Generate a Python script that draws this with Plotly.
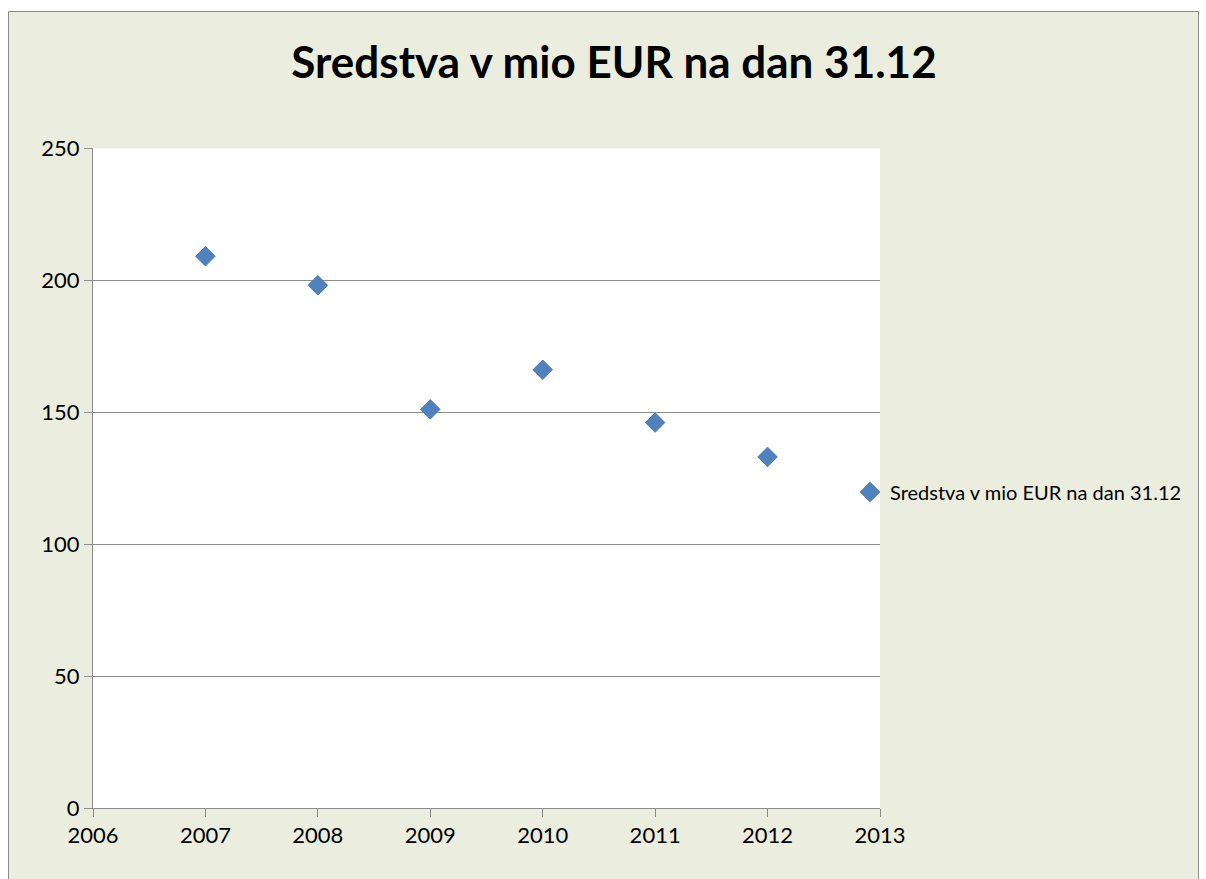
import plotly.graph_objects as go

years = [2007, 2008, 2009, 2010, 2011, 2012]
values = [209, 198, 151, 166, 146, 133]
series_name = "Sredstva v mio EUR na dan 31.12"
title_text = "Sredstva v mio EUR na dan 31.12"

W, H = 1206, 879
L, R, T, B = 93, 1206 - 880, 148, 879 - 808
pw, ph = W - L - R, H - T - B

def px(x):
    return (x - L) / pw

def py(y):
    return (H - B - y) / ph

BG = "#EBEEDF"
FONT = "Lato"
GRID = "#8C8C8C"

fig = go.Figure()
fig.add_trace(go.Scatter(
    x=years, y=values, mode="markers", name=series_name,
    marker=dict(symbol="diamond", size=15, color="#4F81BD",
                line=dict(color="#4A7AB5", width=1)),
))

shapes = [
    # white page outside the chart frame
    dict(type="rect", xref="paper", yref="paper", x0=px(-5), x1=px(8), y0=py(H + 5), y1=py(-5),
         fillcolor="white", line=dict(width=0), layer="below"),
    dict(type="rect", xref="paper", yref="paper", x0=px(-5), x1=px(W + 5), y0=py(11), y1=py(-5),
         fillcolor="white", line=dict(width=0), layer="below"),
    dict(type="rect", xref="paper", yref="paper", x0=px(1199), x1=px(W + 5), y0=py(H + 5), y1=py(-5),
         fillcolor="white", line=dict(width=0), layer="below"),
    # chart frame
    dict(type="rect", xref="paper", yref="paper", x0=px(8.5), x1=px(1198.5), y0=py(H + 5), y1=py(11.5),
         fillcolor="rgba(0,0,0,0)", line=dict(color=GRID, width=1), layer="below"),
]

fig.update_layout(
    width=W, height=H, autosize=False,
    margin=dict(l=L, r=R, t=T, b=B, pad=0),
    paper_bgcolor=BG, plot_bgcolor="white",
    font=dict(family=FONT, size=22, color="black"),
    title=dict(text="<b>" + title_text + "</b>", x=614 / W, xanchor="center",
               y=1 - 63 / H, yanchor="middle", font=dict(family=FONT, size=44, color="black")),
    showlegend=True,
    legend=dict(x=px(850), xanchor="left", y=py(492), yanchor="middle",
                bgcolor="rgba(0,0,0,0)", font=dict(family=FONT, size=20, color="black"),
                itemwidth=30),
    shapes=shapes,
    xaxis=dict(range=[2006, 2013], dtick=1, tick0=2006, showgrid=False, zeroline=False,
               showline=True, linecolor=GRID, linewidth=1,
               ticks="outside", ticklen=8, tickcolor=GRID, automargin=False,
               tickfont=dict(family=FONT, size=22), fixedrange=True),
    yaxis=dict(range=[0, 250], dtick=50, showgrid=True, gridcolor=GRID, gridwidth=1,
               zeroline=False, showline=True, linecolor=GRID, linewidth=1,
               ticks="outside", ticklen=8, tickcolor=GRID, automargin=False,
               tickfont=dict(family=FONT, size=22), fixedrange=True),
)

fig.write_html(
    "out.html",
    config={"displayModeBar": False},
    post_script="document.body.style.margin='0';document.body.style.overflow='hidden';"
                "document.documentElement.style.overflow='hidden';",
)
